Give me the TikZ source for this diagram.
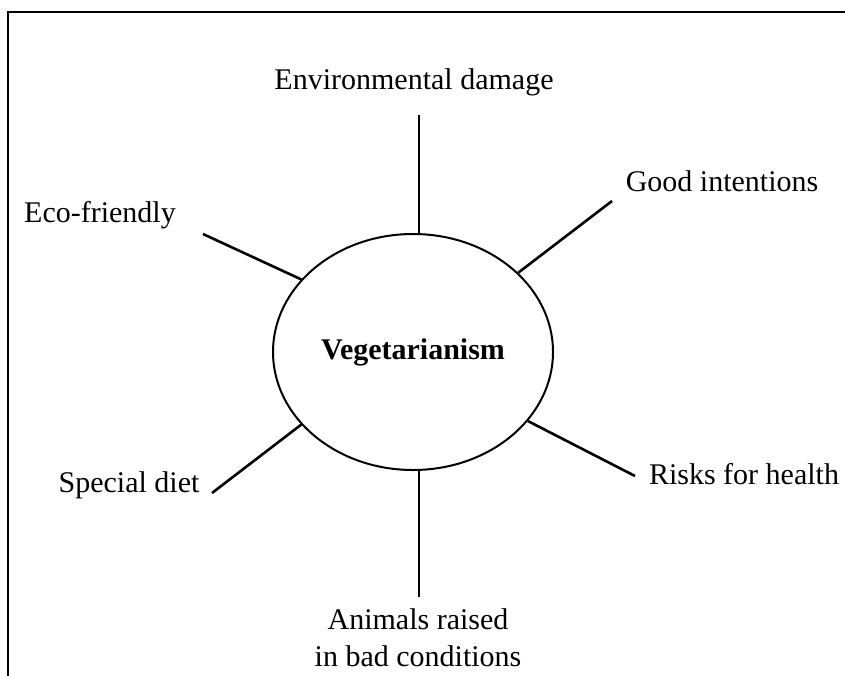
\documentclass[tikz,border=0pt]{standalone}
\usepackage{fontspec}
\setmainfont{Liberation Serif}
\usetikzlibrary{shapes.geometric}

\begin{document}
\begin{tikzpicture}[x=1pt, y=-1pt, line width=2.6pt,
    topic/.style = {anchor=base, inner sep=0pt, font=\fontsize{30}{38}\selectfont},
    main/.style = {draw, ellipse, line width=2pt, minimum width=280pt, minimum height=236pt, inner sep=0pt, font=\fontsize{30}{38}\selectfont\bfseries}]
      \useasboundingbox (0,0) rectangle (845,675);
      % frame
      \draw[line width=2.8pt] (846,12) -- (8,12) -- (8,676);
      \node[main] (veg) at (413,352) {Vegetarianism};
      \node[topic] (env) at (414,89) {Environmental damage};
      \node[topic] (good) at (722,191) {Good intentions};
      \node[topic] (eco) at (100,222) {Eco-friendly};
      \node[topic] (diet) at (129,492) {Special diet};
      \node[topic] (risk) at (744,484) {Risks for health};
      \node[topic] (anim) at (418,629) {Animals raised};
      \node[topic] (cond) at (418,666) {in bad conditions};
      \coordinate (c1) at (419,115);
      \coordinate (c2) at (612,201);
      \coordinate (c3) at (203,234);
      \coordinate (c4) at (212,493);
      \coordinate (c5) at (635,476);
      \coordinate (c6) at (419,597);
      \draw (c1) -- (c1 |- veg.north);
      \draw (c2) -- (veg.37);
      \draw (c3) -- (veg.147);
      \draw (c4) -- (veg.213);
      \draw (c5) -- (veg.329);
      \draw (c6) -- (c6 |- veg.south);
    \end{tikzpicture}
\end{document}
